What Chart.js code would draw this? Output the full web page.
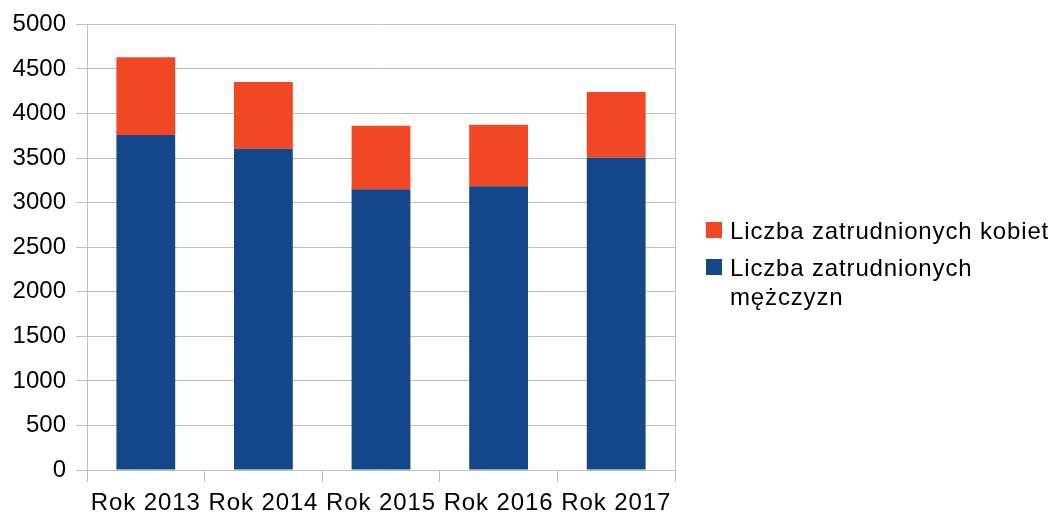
<!DOCTYPE html>
<html>
<head>
<meta charset="utf-8">
<title>Zatrudnienie 2013-2017</title>
<script src="https://cdn.jsdelivr.net/npm/chart.js@4/dist/chart.umd.min.js"></script>
<style>
  body { margin: 0; background: #fff; font-family: "Liberation Sans", Arial, sans-serif; }
  #wrap { position: relative; width: 1056px; height: 515px; }
  #legend { position: absolute; left: 706px; top: 216px; width: 350px; font-size: 24px; color: #000; letter-spacing: 0.85px; }
  .item { position: relative; padding-left: 24px; line-height: 29px; margin-bottom: 8px; }
  .item.first { white-space: nowrap; }
  .box { position: absolute; left: 0; top: 6px; width: 16px; height: 16px; }
</style>
</head>
<body>
<div id="wrap">
  <canvas id="chart" width="1056" height="515"></canvas>
  <div id="legend"></div>
</div>
<script>
const years = ["Rok 2013", "Rok 2014", "Rok 2015", "Rok 2016", "Rok 2017"];
const men = [3760, 3605, 3150, 3183, 3505];
const women = [872, 750, 714, 690, 737];
const yTicks = [0, 500, 1000, 1500, 2000, 2500, 3000, 3500, 4000, 4500, 5000];

const gridColor = "#c0c0c0";

// ramka z prawej strony obszaru wykresu
const rightBorder = {
  id: "rightBorder",
  afterDraw(chart) {
    const a = chart.chartArea, ctx = chart.ctx;
    ctx.save();
    ctx.strokeStyle = gridColor;
    ctx.lineWidth = 1;
    ctx.beginPath();
    ctx.moveTo(Math.round(a.right) + 0.5, a.top);
    ctx.lineTo(Math.round(a.right) + 0.5, a.bottom);
    ctx.stroke();
    ctx.restore();
  }
};

const chart = new Chart("chart", {
  type: "bar",
  data: {
    labels: years,
    datasets: [
      { label: "Liczba zatrudnionych mężczyzn", data: men, backgroundColor: "#134789" },
      { label: "Liczba zatrudnionych kobiet", data: women, backgroundColor: "#f14724" }
    ]
  },
  options: {
    responsive: false,
    animation: false,
    layout: { padding: { top: 22, right: 381, left: 0, bottom: 0 } },
    plugins: { legend: { display: false }, tooltip: { enabled: false } },
    datasets: { bar: { categoryPercentage: 1, barPercentage: 0.5 } },
    scales: {
      x: {
        stacked: true,
        offset: true,
        grid: { offset: true, drawOnChartArea: false, drawTicks: true, tickLength: 12, color: gridColor },
        border: { color: gridColor },
        ticks: { color: "#000", font: { family: "Liberation Sans", size: 24 }, padding: 7, maxRotation: 0 },
        afterFit(s) { s.height = 45; },
        afterUpdate(s) {
          // etykiety osi X sa w oryginale troche szersze
          if (s._spaced) return;
          const draw = s.drawLabels.bind(s);
          s.drawLabels = function(area) {
            s.ctx.save();
            s.ctx.letterSpacing = "0.9px";
            draw(area);
            s.ctx.restore();
          };
          s._spaced = true;
        }
      },
      y: {
        stacked: true,
        min: 0,
        max: 5000,
        afterBuildTicks(s) { s.ticks = yTicks.map(v => ({ value: v })); },
        grid: { color: gridColor, tickLength: 11 },
        border: { color: gridColor },
        ticks: { color: "#000", font: { family: "Liberation Sans", size: 24 }, padding: 10, callback: v => String(v) },
        afterFit(s) { s.width = 87; }
      }
    }
  },
  plugins: [rightBorder]
});

// legenda jak w oryginale (kolejnosc odwrocona, zawijanie tekstu)
const legend = document.getElementById("legend");
chart.data.datasets.slice().reverse().forEach((ds, i) => {
  const item = document.createElement("div");
  item.className = "item" + (i == 0 ? " first" : "");
  const box = document.createElement("span");
  box.className = "box";
  box.style.background = ds.backgroundColor;
  item.appendChild(box);
  item.appendChild(document.createTextNode(ds.label));
  legend.appendChild(item);
});
</script>
</body>
</html>
